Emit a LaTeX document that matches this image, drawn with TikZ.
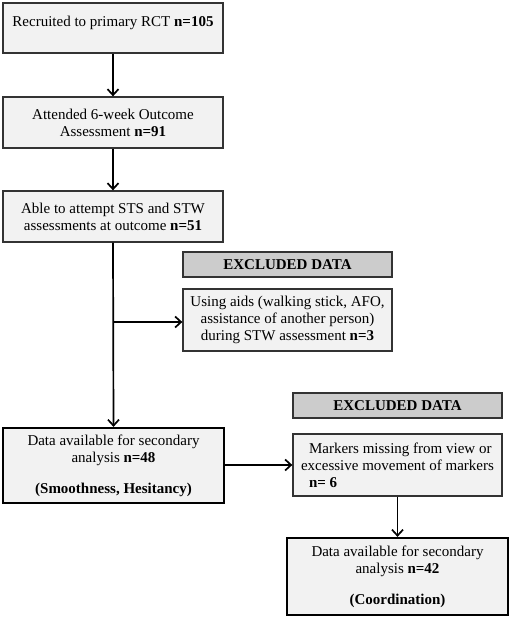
\documentclass[tikz,border=0pt]{standalone}
\usepackage{fontspec}
\setmainfont{Liberation Serif}
\usetikzlibrary{arrows.meta}
\definecolor{boxfill}{HTML}{F2F2F2}
\definecolor{headfill}{HTML}{CCCCCC}
\definecolor{edge}{HTML}{333333}
\begin{document}
\begin{tikzpicture}[x=1pt,y=-1pt,
  every node/.style={font=\fontsize{15}{17}\selectfont},
  box/.style={draw=edge,line width=1.3pt,fill=boxfill,rectangle,inner sep=2pt,align=center},
  thickbox/.style={box,draw=black,line width=2.2pt},
  headbox/.style={box,fill=headfill,font=\fontsize{15}{17}\selectfont\bfseries},
  conn/.style={line width=1.7pt,-{Straight Barb[length=6pt,width=11pt,line width=1.7pt]}}]
\useasboundingbox (0,0) rectangle (510,617);
\node[box,minimum width=220,minimum height=50,text height=11pt,text depth=14pt] (b1) at (113,28) {Recruited to primary RCT \textbf{n=105}};
\node[box,minimum width=220,minimum height=51] (b2) at (113,122.5) {Attended 6-week Outcome\\Assessment \textbf{n=91}};
\node[box,minimum width=220,minimum height=51] (b3) at (113,216.5) {Able to attempt STS and STW\\assessments at outcome \textbf{n=51}};
\node[headbox,minimum width=209,minimum height=25] (h1) at (287.5,264.5) {EXCLUDED DATA};
\node[box,minimum width=209,minimum height=62] (e1) at (287.5,320) {Using aids (walking stick, AFO,\\assistance of another person)\\during STW assessment \textbf{n=3}};
\node[thickbox,minimum width=221,minimum height=75] (d48) at (113.5,465.5) {Data available for secondary\\analysis \textbf{n=48}\\[14pt]\textbf{(Smoothness, Hesitancy)}};
\node[headbox,minimum width=209,minimum height=25] (h2) at (397.5,405.5) {EXCLUDED DATA};
\node[box,minimum width=209,minimum height=62,align=left] (e2) at (397.5,465) {\hspace*{8pt}Markers missing from view or\\excessive movement of markers\\\hspace*{8pt}\textbf{n= 6}};
\node[thickbox,minimum width=221,minimum height=77] (d42) at (397.5,576.5) {Data available for secondary\\analysis \textbf{n=42}\\[14pt]\textbf{(Coordination)}};
\coordinate (j1) at (113,322);
\draw[conn] (b1.south) -- (b2.north);
\draw[conn] (b2.south) -- (b3.north);
\draw[conn] (b3.south) -- (d48.north);
\draw[conn] (j1) -- (j1 -| e1.west);
\draw[conn] (d48.east |- e2.west) -- (e2.west);
\draw[conn] (e2.south) -- (d42.north);
\end{tikzpicture}
\end{document}
